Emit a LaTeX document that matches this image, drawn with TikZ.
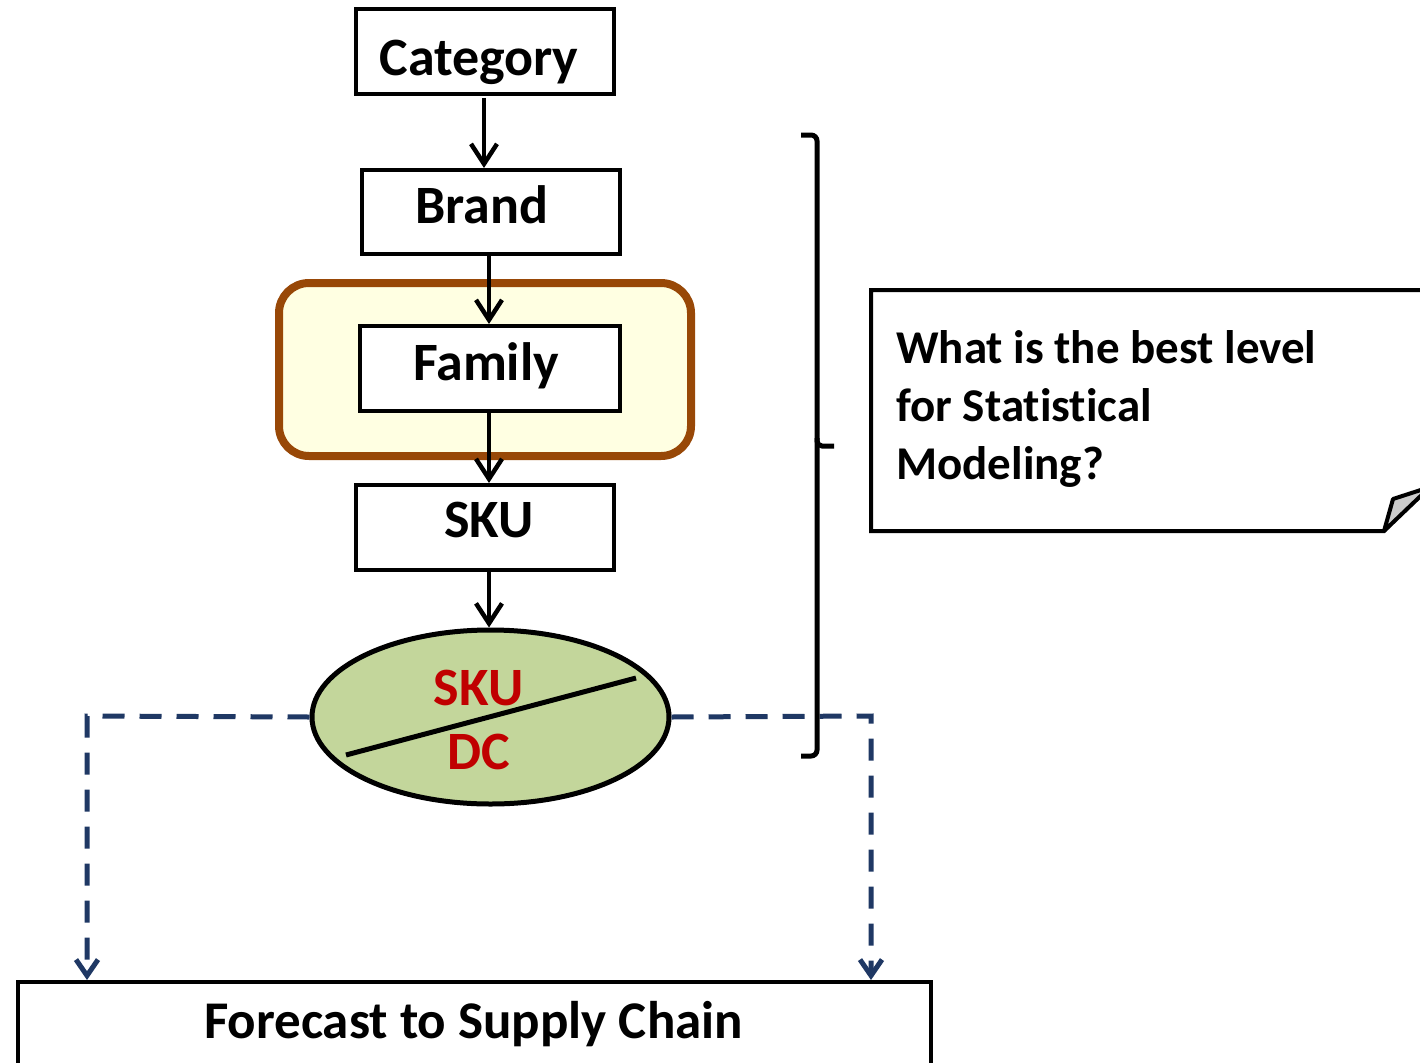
\documentclass[tikz,border=0pt]{standalone}
\usepackage{fontspec}
\setmainfont{Carlito}[Ligatures=NoCommon]
\usetikzlibrary{arrows.meta,shapes.geometric}
\definecolor{navy}{RGB}{31,56,100}
\definecolor{famborder}{RGB}{152,72,7}
\definecolor{famfill}{RGB}{255,255,226}
\definecolor{ellfill}{RGB}{195,214,155}
\definecolor{skured}{RGB}{192,0,0}
\definecolor{foldgray}{RGB}{204,204,204}
\tikzset{
  box/.style={draw=black, line width=4pt, fill=white, inner sep=0pt},
  flow/.style={line width=4.5pt, -{Straight Barb[length=20pt,width=26pt]}},
  dashflow/.style={draw=navy, line width=5pt, dash pattern=on 22pt off 15pt, -{Straight Barb[length=16pt,width=22pt]}},
  lbl/.style={inner sep=0pt, anchor=base, font=\fontsize{54}{60}\selectfont\bfseries}
}
\begin{document}
\begin{tikzpicture}[x=1pt,y=-1pt]
\useasboundingbox (0,0) rectangle (1420,1062);
\clip (0,0) rectangle (1420,1062);
\fill[white] (0,0) rectangle (1420,1062);
% family highlight
\node[draw=famborder, fill=famfill, line width=8pt, rounded corners=30pt, minimum width=412pt, minimum height=173pt, inner sep=0pt] (famhl) at (485,369.5) {};
% boxes
\node[box, minimum width=258pt, minimum height=85pt] (cat) at (485,51.5) {};
\node[lbl] (catt) at (479,76) {Category};
\node[box, minimum width=258pt, minimum height=84pt] (brand) at (491,212) {};
\node[lbl] (brandt) at (482,223) {Brand};
\node[box, minimum width=260pt, minimum height=85pt] (fam) at (490,368.5) {};
\node[lbl] (famt) at (486,380) {Family};
\node[box, minimum width=258pt, minimum height=85pt] (sku) at (485,527.5) {};
\node[lbl] (skut) at (489,537) {SKU};
% ellipse
\node[draw=black, fill=ellfill, line width=5pt, ellipse, minimum width=357pt, minimum height=174pt, inner sep=0pt] (ell) at (490.5,717) {};
\node[lbl, text=skured] (e1) at (478.5,705) {SKU};
\node[lbl, text=skured] (e2) at (478.5,769) {DC};
\draw[line width=5pt] (346,755) -- (636,678);
% forecast box
\node[draw=black, line width=4pt, fill=white, minimum width=913pt, minimum height=110pt, anchor=north west, inner sep=0pt] (fc) at (16,980) {};
\node[lbl, font=\fontsize{53}{60}\selectfont\bfseries] (fct) at (473.5,1038) {Forecast to Supply Chain};
% arrows
\coordinate (a1) at (484,98);
\coordinate (a2) at (489,254);
\coordinate (a3) at (489,411);
\coordinate (a4) at (489,570);
\draw[flow] (a1) -- (a1 |- brand.north);
\draw[flow] (a2) -- (a2 |- fam.north);
\draw[flow] (a3) -- (a3 |- sku.north);
\draw[flow] (a4) -- (a4 |- ell.north);
% dashed connectors
\coordinate (dl) at (87,716);
\coordinate (dr) at (871,716);
\draw[dashflow] (ell.west) -- (dl) -- (dl |- fc.north);
\draw[dashflow] (ell.east) -- (dr) -- (dr |- fc.north);
% brace
\draw[line width=5pt, rounded corners=6pt] (801,135) -- (817,135) -- (817,756) -- (801,756);
\draw[line width=5pt, rounded corners=5pt] (817,438) -- (817,446) -- (834,446);
% note
\draw[line width=4pt, fill=white] (1440,290) -- (871,290) -- (871,531) -- (1384,531) -- (1440,470);
\draw[line width=4pt, fill=foldgray, line join=round] (1384,531) -- (1393,499) -- (1430,487) -- cycle;
\node[inner sep=0pt, anchor=base west, align=left, font=\fontsize{47}{58}\selectfont\bfseries] (note) at (896,479) {What is the best level\\for Statistical\\Modeling?};
\end{tikzpicture}
\end{document}
